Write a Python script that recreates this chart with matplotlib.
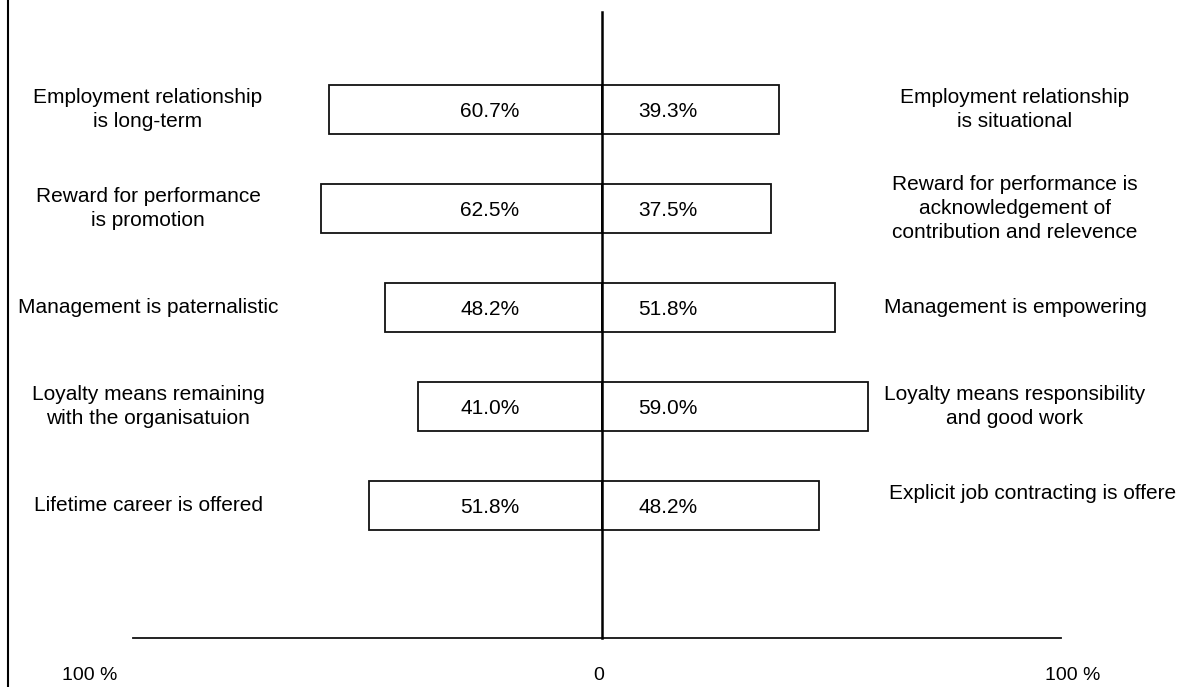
import matplotlib.pyplot as plt

plt.rcParams['font.family'] = ['Liberation Sans', 'DejaVu Sans']

# Survey results: share of respondents on each side of the contrast
left_labels = [
    "Employment relationship\nis long-term",
    "Reward for performance\nis promotion",
    "Management is paternalistic",
    "Loyalty means remaining\nwith the organisatuion",
    "Lifetime career is offered",
]
right_labels = [
    "Employment relationship\nis situational",
    "Reward for performance is\nacknowledgement of\ncontribution and relevence",
    "Management is empowering",
    "Loyalty means responsibility\nand good work",
    "Explicit job contracting is offere",
]
left_values = [60.7, 62.5, 48.2, 41.0, 51.8]
right_values = [39.3, 37.5, 51.8, 59.0, 48.2]

W, H, DPI = 1185, 687, 100
CX = 602          # pixel column of the zero line
PX_PER_PCT = 4.5  # horizontal scale
ROW0, ROW_STEP = 109.5, 99.0


def xd(px):
    return (px - CX) / PX_PER_PCT


def yd(py):
    return (py - ROW0) / ROW_STEP


fig = plt.figure(figsize=(W / DPI, H / DPI), dpi=DPI)
ax = fig.add_axes([0, 0, 1, 1])
ax.set_xlim(xd(0), xd(W))
ax.set_ylim(yd(H), yd(0))
ax.axis('off')

rows = range(len(left_values))
bar_h = 49 / ROW_STEP
ax.barh(rows, [-v for v in left_values], height=bar_h, color='white',
        edgecolor='#111111', linewidth=1.3, zorder=2)
ax.barh(rows, right_values, height=bar_h, color='white',
        edgecolor='#111111', linewidth=1.3, zorder=2)

# value labels inside the bars
dy = 2 / ROW_STEP
for i, (lv, rv) in enumerate(zip(left_values, right_values)):
    ax.text(xd(490), i + dy, f"{lv:.1f}%", ha='center', va='center', fontsize=15, zorder=3)
    ax.text(xd(668), i + dy, f"{rv:.1f}%", ha='center', va='center', fontsize=15, zorder=3)

# statements on either side
for i, lab in enumerate(left_labels):
    ax.text(xd(148), i, lab, ha='center', va='center', fontsize=15, linespacing=1.3)
for i, lab in enumerate(right_labels):
    if i == len(right_labels) - 1:
        ax.text(xd(889), i - 0.12, lab, ha='left', va='center', fontsize=15)
    else:
        ax.text(xd(1015), i, lab, ha='center', va='center', fontsize=15, linespacing=1.3)

# zero line, baseline and scale labels
ax.plot([0, 0], [yd(12), yd(638)], color='black', linewidth=1.8, zorder=4)
ax.plot([xd(133), xd(1061)], [yd(638), yd(638)], color='#111111', linewidth=1.3)
ax.text(xd(90), yd(675), "100 %", ha='center', va='center', fontsize=14)
ax.text(xd(599), yd(675), "0", ha='center', va='center', fontsize=14)
ax.text(xd(1073), yd(675), "100 %", ha='center', va='center', fontsize=14)

# frame line down the left edge
ax.plot([xd(8), xd(8)], [yd(0), yd(H)], color='black', linewidth=1.5)

fig.savefig('out.png', dpi=DPI)
